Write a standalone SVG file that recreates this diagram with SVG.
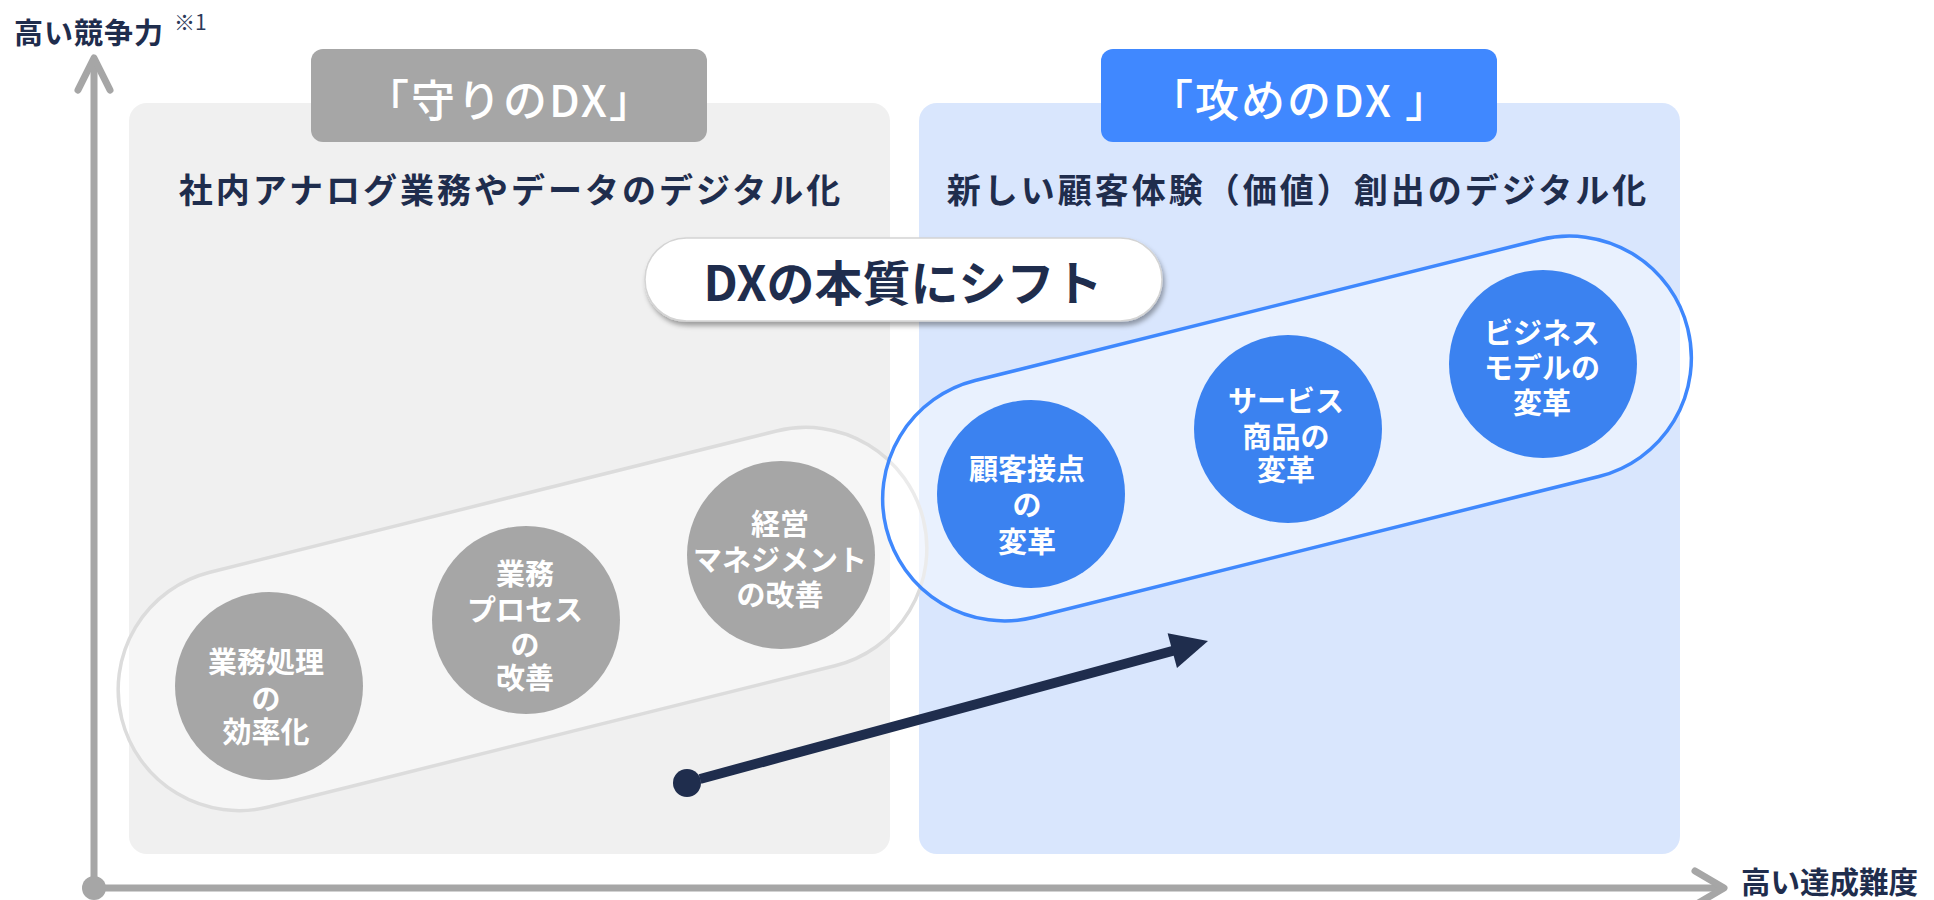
<svg xmlns="http://www.w3.org/2000/svg" width="1934" height="900" viewBox="0 0 1934 900">
<defs>
<style>
text{font-family:"Noto Sans CJK JP","Noto Sans",sans-serif;dominant-baseline:central}
.ct{font-size:29px;font-weight:700;fill:#fff;text-anchor:middle}
.sub{font-size:34px;font-weight:700;fill:#1f2d4d;text-anchor:middle;letter-spacing:3px}
.tab{font-size:44px;font-weight:500;fill:#fff;text-anchor:middle;letter-spacing:2px}
.axl{font-size:29px;font-weight:700;fill:#1f2d4d;letter-spacing:1px}
.gc{fill:#a6a6a6}
.bc{fill:#3b82f0}
</style>
<filter id="sh" x="-10%" y="-30%" width="120%" height="170%">
<feDropShadow dx="2" dy="4" stdDeviation="2.5" flood-color="#000" flood-opacity="0.35"/>
</filter>
</defs>
<rect width="1934" height="900" fill="#fff"/>

<g id="panel-defense">
<rect x="129" y="103" width="761" height="751" rx="18" fill="#f0f0f0"/>
<rect x="311" y="49" width="396" height="93" rx="12" fill="#a6a6a6"/>
<text class="tab" x="510" y="98">「守りのDX」</text>
<text class="sub" x="511" y="188">社内アナログ業務やデータのデジタル化</text>
</g>

<g id="panel-offense">
<rect x="919" y="103" width="761" height="751" rx="18" fill="#d9e6fd"/>
<rect x="1101" y="49" width="396" height="93" rx="12" fill="#4088ff"/>
<text class="tab" x="1300" y="98">「攻めのDX 」</text>
<text class="sub" x="1298" y="188">新しい顧客体験（価値）創出のデジタル化</text>
</g>

<g id="axes" stroke="#a6a6a6" stroke-width="7" stroke-linecap="round" stroke-linejoin="round" fill="none">
<line x1="94" y1="888" x2="94" y2="60"/>
<polyline points="78,90 94,58 110,90"/>
<line x1="94" y1="888" x2="1722" y2="888"/>
<polyline points="1695,871 1724,888 1695,905"/>
<circle cx="94" cy="888" r="12" fill="#a6a6a6" stroke="none"/>
</g>
<g id="axis-labels">
<text class="axl" x="14" y="31">高い競争力</text>
<text x="174" y="21" style="font-size:21px;fill:#2c3a5a">※1</text>
<text x="1741" y="880" style="font-size:29.5px;font-weight:700;fill:#1f2d4d">高い達成難度</text>
</g>

<g id="group-defense">
<g transform="translate(522.5,619) rotate(-14)">
<rect x="-413" y="-121" width="826" height="242" rx="121" fill="#fff" fill-opacity="0.4" stroke="#dcdcdc" stroke-width="3.5"/>
</g>
</g>

<g id="group-offense">
<g transform="translate(1287,428.5) rotate(-14)">
<rect x="-413" y="-122" width="826" height="244" rx="122" fill="#fff" fill-opacity="0.43" stroke="#3f88fd" stroke-width="3.5"/>
</g>
</g>

<g id="pill">
<rect x="645" y="238" width="517" height="83" rx="41.5" fill="#fff" stroke="#d4d4d4" stroke-width="1.5" filter="url(#sh)"/>
<text x="903" y="280" style="font-size:48px;font-weight:700;fill:#1f2d4d;text-anchor:middle">DXの本質にシフト</text>
</g>

<g id="node-gyomu-shori">
<circle class="gc" cx="269" cy="686" r="94"/>
<text class="ct"><tspan x="266" y="660">業務処理</tspan><tspan x="266" y="697">の</tspan><tspan x="266" y="730">効率化</tspan></text>
</g>
<g id="node-gyomu-process">
<circle class="gc" cx="526" cy="620" r="94"/>
<text class="ct"><tspan x="525" y="572">業務</tspan><tspan x="525" y="608">プロセス</tspan><tspan x="525" y="643">の</tspan><tspan x="525" y="676">改善</tspan></text>
</g>
<g id="node-keiei">
<circle class="gc" cx="781" cy="555" r="94"/>
<text class="ct"><tspan x="780" y="522">経営</tspan><tspan x="780" y="558">マネジメント</tspan><tspan x="780" y="593">の改善</tspan></text>
</g>
<g id="node-kokyaku">
<circle class="bc" cx="1031" cy="494" r="94"/>
<text class="ct"><tspan x="1027" y="467">顧客接点</tspan><tspan x="1027" y="503">の</tspan><tspan x="1027" y="540">変革</tspan></text>
</g>
<g id="node-service">
<circle class="bc" cx="1288" cy="429" r="94"/>
<text class="ct"><tspan x="1286" y="399">サービス</tspan><tspan x="1286" y="435">商品の</tspan><tspan x="1286" y="468">変革</tspan></text>
</g>
<g id="node-business">
<circle class="bc" cx="1543" cy="364" r="94"/>
<text class="ct"><tspan x="1542" y="331">ビジネス</tspan><tspan x="1542" y="366">モデルの</tspan><tspan x="1542" y="401">変革</tspan></text>
</g>

<g id="connectors">
<circle cx="687" cy="783" r="14" fill="#1f2d4d"/>
<line x1="700" y1="779" x2="1176" y2="650" stroke="#1f2d4d" stroke-width="10"/>
<polygon points="1208,641 1167.6,633.3 1177,668.1" fill="#1f2d4d"/>
</g>
</svg>
